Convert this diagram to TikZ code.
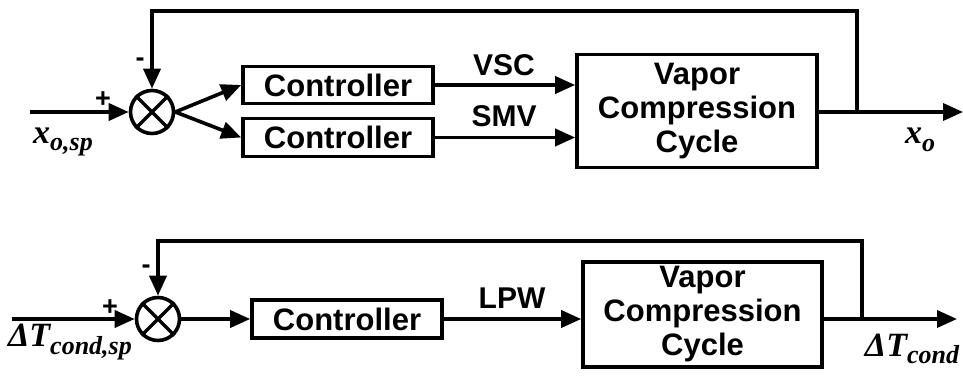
\documentclass[tikz,border=0pt]{standalone}
\usepackage{fontspec}
\setmainfont{Liberation Serif}
\newfontfamily\sansfam{Liberation Sans}
\usetikzlibrary{arrows.meta}

\begin{document}
\begin{tikzpicture}[x=1pt,y=-1pt,line width=3.6pt,line join=miter,
  blk/.style={draw,rectangle,inner sep=0pt,align=center,
    font=\sansfam\bfseries\fontsize{31}{34}\selectfont},
  sumj/.style={draw,circle,minimum size=43pt,inner sep=0pt},
  arr/.style={-{Triangle[length=20pt,width=17pt]}},
  sig/.style={font=\sansfam\bfseries\fontsize{30}{30}\selectfont},
  lbl/.style={font=\bfseries\itshape\fontsize{34}{34}\selectfont},
  sub/.style={},
  sgn/.style={font=\sansfam\bfseries\fontsize{27}{27}\selectfont}]
\useasboundingbox (0,0) rectangle (963,377);
\newcommand\lblsub[1]{\raisebox{-0.22em}{\fontsize{26}{26}\selectfont #1}}

% ---------- upper loop: two controllers ----------
\node[sumj] (s1) at (152,112) {};
\draw[line width=3.2pt] (s1.north west) -- (s1.south east)
  (s1.north east) -- (s1.south west);
\node[blk,minimum width=190pt,minimum height=37pt] (c1) at (338,85) {Controller};
\node[blk,minimum width=190pt,minimum height=38pt] (c2) at (338,137.5) {Controller};
\node[blk,minimum width=240pt,minimum height=113pt] (v1) at (697,111)
  {Vapor\\Compression\\Cycle};

\coordinate (in1) at (30,112);
\coordinate (out1) at (963,112);
\coordinate (fb1) at (857,112);
\draw[arr] (in1) -- (s1.west);
\draw[arr] (s1.east) -- (c1.west);
\draw[arr] (s1.east) -- (c2.west);
\draw[arr] (c1.east) -- (c1.east -| v1.west);
\draw[arr] (c2.east) -- (c2.east -| v1.west);
\draw[arr] (v1.east |- out1) -- (out1);
\draw[arr] (fb1) -- (857,11) -- (152,11) -- (s1.north);

\node[sig] (vsc) at (504,65) {VSC};
\node[sig] (smv) at (504,116) {SMV};
\node[sgn] (p1) at (103,100) {+};
\node[sgn] (m1) at (140,62) {-};
\node[lbl] (xsp) at (63,142) {x\lblsub{o,sp}};
\node[lbl] (xo) at (920,140) {x\lblsub{o}};

% ---------- lower loop: single controller ----------
\node[sumj] (s2) at (158,319) {};
\draw[line width=3.2pt] (s2.north west) -- (s2.south east)
  (s2.north east) -- (s2.south west);
\node[blk,minimum width=190pt,minimum height=38pt] (c3) at (347,319) {Controller};
\node[blk,minimum width=239pt,minimum height=105pt] (v2) at (702.5,314.5)
  {Vapor\\Compression\\Cycle};

\coordinate (in2) at (12,319);
\coordinate (out2) at (957,319);
\coordinate (fb2) at (862,319);
\draw[arr] (in2) -- (s2.west);
\draw[arr] (s2.east) -- (c3.west);
\draw[arr] (c3.east) -- (c3.east -| v2.west);
\draw[arr] (v2.east |- out2) -- (out2);
\draw[arr] (fb2) -- (862,241) -- (158,241) -- (s2.north);

\node[sig] (lpw) at (512,298) {LPW};
\node[sgn] (p2) at (110,308) {+};
\node[sgn] (m2) at (146,269) {-};
\node[lbl] (tsp) at (70,342) {ΔT\lblsub{cond,sp}};
\node[lbl] (tc) at (912,349) {ΔT\lblsub{cond}};
\end{tikzpicture}
\end{document}
